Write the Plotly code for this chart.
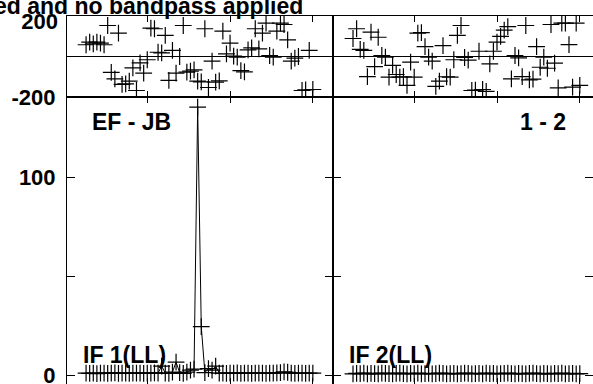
import plotly.graph_objects as go

channels = list(range(1, 65))

phase_if1 = [58, 71, 62, 71, 66, 58, 153, -78, -110, 115, -138, -135, -122, -56, -168, -31,
             -82, -16, 140, 137, 21, 18, 104, -118, 30, -82, 0, 153, -77, -72, -66, -122,
             -125, 137, -153, -23, -127, -120, 125, 13, 66, 2, -3, -70, -76, 33, 43, 137,
             38, 115, 165, 5, -3, 125, 165, 158, 82, -23, -8, 0, -168, -165, 30, -163]

phase_if2 = [89, 137, 35, 30, -99, 120, -50, 95, 5, -3, -102, -44, -89, -102, -100, -143,
             -28, -102, 115, 118, 49, -3, -23, -148, -122, 54, -100, -102, -16, 104, 153, -5,
             -18, -168, -166, 26, -163, -172, -36, 26, 71, 99, 130, 148, -110, 5, -7, -99,
             153, -115, -112, 49, -53, -3, -58, 158, -33, -155, 165, 165, 59, -151, 165, -143]

amp_if1 = [0.9, 0.8, 1.0, 0.7, 0.9, 1.0, 0.8, 0.9, 1.1, 0.8, 0.9, 1.0, 0.8, 0.9, 1.0, 0.9,
           0.8, 1.0, 0.9, 1.1, 1.0, 4.5, 1.0, 0.8, 1.5, 6.5, 1.2, 0.8, 1.5, 2.5, 3.0, 135.5,
           24.5, 1.2, 3.2, 2.5, 4.5, 1.0, 0.9, 0.8, 1.0, 0.9, 1.1, 0.8, 0.9, 1.0, 0.8, 0.9,
           1.0, 0.9, 0.8, 1.0, 0.9, 1.1, 1.2, 1.6, 1.4, 0.9, 0.8, 1.0, 0.9, 0.8, 1.0, 0.9]

amp_if2 = [0.6, 0.8, 0.7, 0.9, 0.6, 0.8, 0.7, 0.6, 0.9, 0.8, 0.7, 0.6, 0.8, 0.9, 0.7, 0.6,
           0.8, 0.7, 0.9, 0.6, 0.7, 0.8, 0.6, 0.7, 0.9, 0.8, 0.6, 0.7, 0.8, 0.6, 0.7, 0.9,
           0.8, 0.6, 0.7, 0.8, 0.6, 0.9, 0.7, 0.8, 0.6, 0.7, 0.8, 0.9, 0.7, 0.6, 0.8, 0.7,
           0.6, 0.8, 0.9, 0.7, 0.6, 0.8, 0.7, 0.6, 0.8, 0.7, 0.9, 0.6, 0.7, 0.8, 0.6, 0.7]

phase_ticks = [-200, 200]
phase_low_label = ["-200", ""]
phase_top_tick = [200]
phase_top_label = ["200"]
amp_ticks = [0, 50, 100]
amp_ticklabels = ["0", "", "100"]
chan_ticks = [18.2, 41.0, 63.8]

title_text = "ed and no bandpass applied"
baseline_labels = ["EF - JB", "1 - 2"]
if_labels = ["IF 1(LL)", "IF 2(LL)"]

W, H = 593, 384
FONT = "Liberation Sans"
tickfont = dict(family=FONT, size=22, color="black", weight="bold")

def px_x(p):
    return p / W

def px_y(p):
    return (H - p) / H

left_dom = [px_x(67), px_x(333)]
right_dom = [px_x(333), 1.0]
phase_dom = [px_y(97), px_y(16)]
amp_dom = [0.0, px_y(97)]

left_range = [-4.3, 69.6]
right_range = [-4.56, 67.67]
amp_range = [-4.55, 140.6]

marker = dict(symbol="cross-thin", size=12, line=dict(color="black", width=1.2), color="black")

fig = go.Figure()
fig.add_trace(go.Scatter(x=channels, y=phase_if1, mode="markers", marker=marker,
                         xaxis="x", yaxis="y", showlegend=False))
fig.add_trace(go.Scatter(x=channels, y=amp_if1, mode="lines+markers", marker=marker,
                         line=dict(color="black", width=1),
                         xaxis="x2", yaxis="y2", showlegend=False))
fig.add_trace(go.Scatter(x=channels, y=phase_if2, mode="markers", marker=marker,
                         xaxis="x3", yaxis="y3", showlegend=False))
fig.add_trace(go.Scatter(x=channels, y=amp_if2, mode="lines+markers", marker=marker,
                         line=dict(color="black", width=1),
                         xaxis="x4", yaxis="y4", showlegend=False))
# carrier traces so the overlay axes (top phase label, right-hand amp ticks) get drawn
fig.add_trace(go.Scatter(x=[None], y=[None], mode="markers", xaxis="x", yaxis="y6",
                         showlegend=False, hoverinfo="skip"))
fig.add_trace(go.Scatter(x=[None], y=[None], mode="markers", xaxis="x4", yaxis="y5",
                         showlegend=False, hoverinfo="skip"))

common_x = dict(showline=True, linecolor="black", linewidth=1, ticks="inside", ticklen=6,
                tickcolor="black", tickvals=chan_ticks, showticklabels=False,
                showgrid=False, zeroline=False, mirror="ticks", automargin=False)

fig.update_layout(
    width=W, height=H, autosize=False,
    margin=dict(l=0, r=0, t=0, b=0, pad=0),
    paper_bgcolor="white", plot_bgcolor="white",
    xaxis=dict(domain=left_dom, range=left_range, anchor="y", **common_x),
    xaxis2=dict(domain=left_dom, range=left_range, anchor="y2", **common_x),
    xaxis3=dict(domain=right_dom, range=right_range, anchor="y3", **common_x),
    xaxis4=dict(domain=right_dom, range=right_range, anchor="y4", **common_x),
    yaxis=dict(domain=phase_dom, range=[-200, 200], anchor="x", showline=True, linecolor="black",
               mirror=True, ticks="inside", ticklen=8, tickcolor="black",
               tickvals=phase_ticks, ticktext=phase_low_label, tickfont=tickfont,
               ticklabelstandoff=6, ticklabeloverflow="allow", showgrid=False, zeroline=True,
               zerolinecolor="black", zerolinewidth=1, automargin=False),
    yaxis6=dict(overlaying="y", anchor="x", side="left", range=[-200, 200], showline=False,
                ticks="", tickvals=phase_top_tick, ticktext=phase_top_label, tickfont=tickfont,
                ticklabelstandoff=8, ticklabelshift=5, ticklabeloverflow="allow",
                showgrid=False, zeroline=False, automargin=False),
    yaxis2=dict(domain=amp_dom, range=amp_range, anchor="x2", showline=True, linecolor="black",
                mirror="ticks", ticks="inside", ticklen=8, tickcolor="black",
                tickvals=amp_ticks, ticktext=amp_ticklabels, tickfont=tickfont,
                ticklabelstandoff=6, ticklabeloverflow="allow", showgrid=False, zeroline=False,
                automargin=False),
    yaxis3=dict(domain=phase_dom, range=[-200, 200], anchor="x3", showline=True, linecolor="black",
                mirror=False, ticks="inside", ticklen=8, tickcolor="black",
                tickvals=phase_ticks, showticklabels=False, showgrid=False,
                zeroline=True, zerolinecolor="black", zerolinewidth=1, automargin=False),
    yaxis4=dict(domain=amp_dom, range=amp_range, anchor="x4", showline=True, linecolor="black",
                mirror=False, ticks="inside", ticklen=8, tickcolor="black",
                tickvals=amp_ticks, showticklabels=False, showgrid=False, zeroline=False,
                automargin=False),
    yaxis5=dict(overlaying="y4", anchor="x4", side="right", range=amp_range, showline=False,
                ticks="inside", ticklen=8, tickcolor="black", tickvals=amp_ticks,
                showticklabels=False, showgrid=False, zeroline=False, automargin=False),
)

ann_font = dict(family=FONT, size=23, color="black", weight="bold")
fig.add_annotation(text=title_text, xref="paper", yref="paper", x=px_x(305), y=px_y(21),
                   xanchor="right", yanchor="bottom", showarrow=False, font=ann_font)
fig.add_annotation(text=baseline_labels[0], xref="paper", yref="paper", x=px_x(90), y=px_y(122.5),
                   xanchor="left", yanchor="middle", showarrow=False, font=ann_font)
fig.add_annotation(text=baseline_labels[1], xref="paper", yref="paper", x=px_x(568), y=px_y(122.5),
                   xanchor="right", yanchor="middle", showarrow=False, font=ann_font)
fig.add_annotation(text=if_labels[0], xref="paper", yref="paper", x=px_x(81), y=px_y(355),
                   xanchor="left", yanchor="middle", showarrow=False, font=ann_font)
fig.add_annotation(text=if_labels[1], xref="paper", yref="paper", x=px_x(347), y=px_y(355),
                   xanchor="left", yanchor="middle", showarrow=False, font=ann_font)

fig.write_html("out.html", config={"displayModeBar": False},
               post_script="document.body.style.margin='0';document.body.style.overflow='hidden';")
